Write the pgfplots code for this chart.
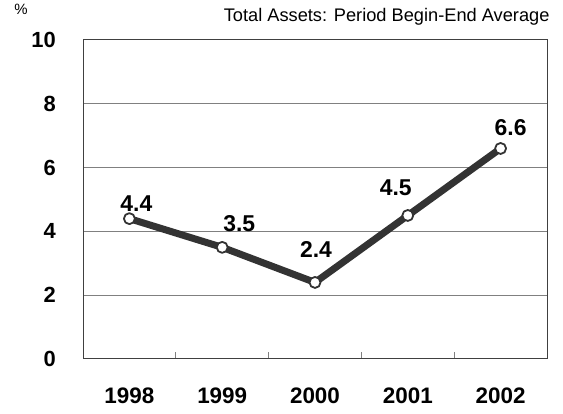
\documentclass[border=0pt]{standalone}
\usepackage{fontspec}
\setmainfont{Liberation Sans}
\usepackage{pgfplots}
\usepackage{pgfplotstable}
\pgfplotsset{compat=1.18}
\definecolor{linegray}{HTML}{333333}
\definecolor{gridgray}{HTML}{808080}
\definecolor{framegray}{HTML}{404040}

% x y and label offsets (bp)
\pgfplotstableread{
x y dx dy
0 4.4 7 15
1 3.5 17 24
2 2.4 1 33
3 4.5 -12 28
4 6.6 10 21
}\roatable

\begin{document}
\begin{tikzpicture}
\useasboundingbox (0,0) rectangle (563bp,414bp);
\begin{axis}[
  at={(83bp,55bp)}, anchor=south west,
  scale only axis, width=464bp, height=319bp,
  xmin=-0.5, xmax=4.5, ymin=0, ymax=10,
  /pgf/number format/assume math mode=true,
  axis line style={draw=framegray, line width=1bp},
  tick style={draw=gridgray, line width=1bp},
  tick align=inside, major tick length=7bp,
  xtick pos=bottom, ytick pos=left,
  xtick={0.5,1.5,2.5,3.5}, xticklabels={},
  extra x ticks={0,1,2,3,4},
  extra x tick labels={1998,1999,2000,2001,2002},
  extra x tick style={major tick length=0pt},
  xticklabel style={font=\fontsize{22.5}{22}\selectfont\bfseries, anchor=north, inner sep=0pt, yshift=-29bp},
  ytick={0,2,...,10},
  yticklabel style={font=\fontsize{22}{22}\selectfont\bfseries, anchor=east, inner sep=0pt, xshift=-27bp},
  ymajorgrids, grid style={draw=gridgray, line width=1bp},
  visualization depends on={\thisrow{dx} \as \dx},
  visualization depends on={\thisrow{dy} \as \dy},
]
\addplot[draw=linegray, line width=7bp, line join=round,
  mark=*, mark size=5.5bp,
  mark options={fill=white, draw=linegray, line width=1.8bp},
  nodes near coords={\pgfmathprintnumber[fixed, precision=1, fixed zerofill]{\pgfplotspointmeta}},
  nodes near coords style={font=\fontsize{23}{23}\selectfont\bfseries, text=black,
    anchor=center, inner sep=0pt, xshift=\dx bp, yshift=\dy bp},
] table[x=x, y=y] {\roatable};
\end{axis}
\node[anchor=east, font=\fontsize{18.3}{19}\selectfont] at (553bp,397bp) {Total Assets: Period Begin-End Average};
\node[font=\fontsize{15}{15}\selectfont] at (21bp,405bp) {\%};
\end{tikzpicture}
\end{document}
